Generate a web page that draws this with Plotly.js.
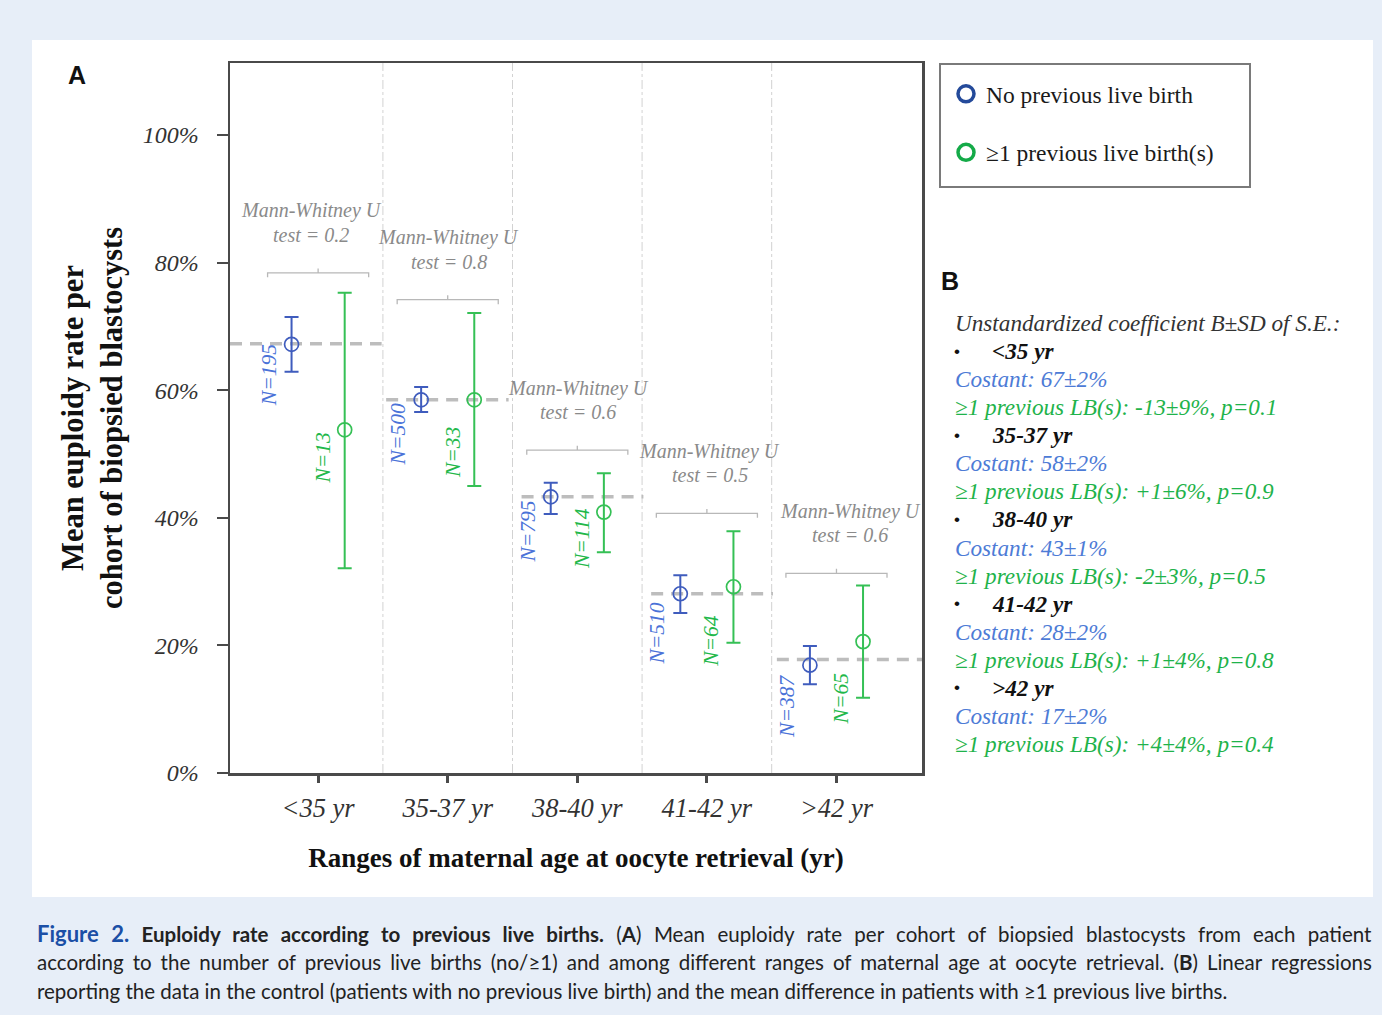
<!DOCTYPE html>
<html>
<head>
<meta charset="utf-8">
<script src="https://cdn.plot.ly/plotly-3.0.1.min.js"></script>
<style>html,body{margin:0;padding:0;background:#e7eef8;}#chart{width:1382px;height:1015px;}</style>
</head>
<body>
<div id="chart"></div>
<script>
// ---------- DATA ----------
const ageGroups = ['<35 yr', '35-37 yr', '38-40 yr', '41-42 yr', '>42 yr'];
const noLBMean = [67.2, 58.5, 43.3, 28.1, 16.9];
const noLBHigh = [71.5, 60.5, 45.5, 31.0, 19.9];
const noLBLow  = [62.9, 56.6, 40.6, 25.1, 13.9];
const lbMean   = [53.8, 58.5, 40.9, 29.2, 20.6];
const lbHigh   = [75.3, 72.1, 47.0, 37.9, 29.4];
const lbLow    = [32.1, 45.0, 34.6, 20.4, 11.8];
const noLBN = [195, 500, 795, 510, 387];
const lbN   = [13, 33, 114, 64, 65];
const refLine = [67.3, 58.5, 43.3, 28.1, 17.8];
const mwP = ['0.2', '0.8', '0.6', '0.5', '0.6'];
const constantB = ['67±2%', '58±2%', '43±1%', '28±2%', '17±2%'];
const lbEffect = ['-13±9%, p=0.1', '+1±6%, p=0.9', '-2±3%, p=0.5', '+1±4%, p=0.8', '+4±4%, p=0.4'];
const yTicks = [0, 20, 40, 60, 80, 100];
const seriesNames = ['No previous live birth', '≥1 previous live birth(s)'];

// ---------- POSITIONS / STYLE (not data) ----------
const pos = {
  offset: 0.205,
  bracketY: [78.4, 74.2, 50.6, 40.7, 31.3],
  mwShift: [-7, 1, 1, 3, 14],
  nBlueY: [62.3, 53.1, 37.8, 21.9, 10.5],
  nGreenY: [49.4, 50.2, 36.8, 20.8, 11.7],
  refSeg: [[-0.68, 0.49], [0.525, 1.47], [1.57, 2.51], [2.57, 3.51], [3.54, 4.66]]
};
const C = {
  blue: '#3f5cbd', green: '#35c055', nBlue: '#4a72d8', nGreen: '#22b84a',
  legBlue: '#244a9a', legGreen: '#14aa48', gray: '#bdbdbd', axis: '#4a4a4a',
  bBlue: '#4d7bd6', bGreen: '#1fb34b'
};
const serif = 'Liberation Serif, Times New Roman, serif';
const sans = 'Liberation Sans, Arial, sans-serif';
const esc = s => s.replace(/&/g, '&amp;').replace(/</g, '&lt;').replace(/>/g, '&gt;');

// pixel helpers (plot area: x 230-922, y 63-773)
const L = 230, R = 922, T = 63, B = 773, W = 1382, H = 1015;
const px = x => (x - L) / (R - L);
const py = y => (B - y) / (B - T);

const idx = ageGroups.map((_, i) => i);
const traces = [
  {
    x: idx.map(i => i - pos.offset), y: noLBMean, type: 'scatter', mode: 'markers',
    name: seriesNames[0], showlegend: false, hoverinfo: 'y',
    marker: {symbol: 'circle-open', size: 14, color: C.blue, line: {width: 1.7, color: C.blue}},
    error_y: {type: 'data', symmetric: false,
      array: noLBHigh.map((v, i) => v - noLBMean[i]),
      arrayminus: noLBMean.map((v, i) => v - noLBLow[i]),
      color: C.blue, thickness: 2, width: 7}
  },
  {
    x: idx.map(i => i + pos.offset), y: lbMean, type: 'scatter', mode: 'markers',
    name: seriesNames[1], showlegend: false, hoverinfo: 'y',
    marker: {symbol: 'circle-open', size: 14, color: C.green, line: {width: 1.7, color: C.green}},
    error_y: {type: 'data', symmetric: false,
      array: lbHigh.map((v, i) => v - lbMean[i]),
      arrayminus: lbMean.map((v, i) => v - lbLow[i]),
      color: C.green, thickness: 2, width: 7}
  },
  {x: [null], y: [null], type: 'scatter', mode: 'markers', name: seriesNames[0], legendgroup: 'a',
   marker: {symbol: 'circle-open', size: 16, color: C.legBlue, line: {width: 3.5, color: C.legBlue}}},
  {x: [null], y: [null], type: 'scatter', mode: 'markers', name: seriesNames[1], legendgroup: 'b',
   marker: {symbol: 'circle-open', size: 16, color: C.legGreen, line: {width: 3.5, color: C.legGreen}}}
];

const shapes = [];
// white panel
shapes.push({type: 'rect', xref: 'paper', yref: 'paper', x0: px(32), x1: px(1373), y0: py(897), y1: py(40),
  fillcolor: '#ffffff', line: {width: 0}, layer: 'below'});
// legend frame
shapes.push({type: 'rect', xref: 'paper', yref: 'paper', x0: px(940), x1: px(1250), y0: py(187), y1: py(64),
  fillcolor: 'rgba(0,0,0,0)', line: {width: 2, color: '#7a7a7a'}});
// vertical dividers
for (let i = 0; i < ageGroups.length - 1; i++) {
  shapes.push({type: 'line', xref: 'x', yref: 'paper', x0: i + 0.5, x1: i + 0.5, y0: 0, y1: 1,
    line: {color: '#d2d2d2', width: 1, dash: 'dashdot'}, layer: 'below'});
}
// reference dashed lines
refLine.forEach((v, i) => {
  shapes.push({type: 'line', xref: 'x', yref: 'y', x0: pos.refSeg[i][0], x1: pos.refSeg[i][1], y0: v, y1: v,
    line: {color: C.gray, width: 3.5, dash: '12px,8px'}, layer: 'below'});
});
// brackets
const hook = 0.7;
pos.bracketY.forEach((yb, i) => {
  const a = i - 0.39, b = i + 0.39;
  shapes.push({type: 'path', xref: 'x', yref: 'y',
    path: `M${a},${yb - hook} L${a},${yb} L${b},${yb} L${b},${yb - hook} M${i},${yb} L${i},${yb + hook}`,
    line: {color: '#b8b8b8', width: 1.3}});
});

const ann = [];
// Mann-Whitney labels
pos.bracketY.forEach((yb, i) => {
  ann.push({xref: 'x', yref: 'y', x: i, y: yb, xshift: pos.mwShift[i], yshift: 62, yanchor: 'middle', xanchor: 'center',
    text: '<i>Mann-Whitney U</i>', showarrow: false, font: {family: serif, size: 20, color: '#8a8a8a'}});
  ann.push({xref: 'x', yref: 'y', x: i, y: yb, xshift: pos.mwShift[i], yshift: 38, yanchor: 'middle', xanchor: 'center',
    text: '<i>test = ' + mwP[i] + '</i>', showarrow: false, font: {family: serif, size: 20, color: '#8a8a8a'}});
});
// N labels
idx.forEach(i => {
  ann.push({xref: 'x', yref: 'y', x: i - pos.offset, y: pos.nBlueY[i], xshift: -23, textangle: -90,
    xanchor: 'center', yanchor: 'middle',
    text: '<i>N=' + noLBN[i] + '</i>', showarrow: false, font: {family: serif, size: 21.5, color: C.nBlue}});
  ann.push({xref: 'x', yref: 'y', x: i + pos.offset, y: pos.nGreenY[i], xshift: -22, textangle: -90,
    xanchor: 'center', yanchor: 'middle',
    text: '<i>N=' + lbN[i] + '</i>', showarrow: false, font: {family: serif, size: 21.5, color: C.nGreen}});
});
// panel letters
ann.push({xref: 'paper', yref: 'paper', x: px(77), y: py(75), xanchor: 'center', yanchor: 'middle',
  text: '<b>A</b>', showarrow: false, font: {family: sans, size: 25, color: '#111'}});
ann.push({xref: 'paper', yref: 'paper', x: px(950), y: py(281), xanchor: 'center', yanchor: 'middle',
  text: '<b>B</b>', showarrow: false, font: {family: sans, size: 25, color: '#111'}});
// panel B text
const bx = px(953);
const lineY0 = 323, lineStep = 28.07;
const bFont = (c) => ({family: serif, size: 23.2, color: c});
ann.push({xref: 'paper', yref: 'paper', x: bx, y: py(lineY0), xanchor: 'left', yanchor: 'middle', showarrow: false,
  text: '<i>Unstandardized coefficient B±SD of S.E.:</i>', font: bFont('#333')});
ageGroups.forEach((g, i) => {
  const y1 = lineY0 + lineStep * (1 + 3 * i);
  ann.push({xref: 'paper', yref: 'paper', x: px(957), y: py(y1), xanchor: 'center', yanchor: 'middle', showarrow: false,
    text: '•', font: {family: sans, size: 17, color: '#111'}});
  ann.push({xref: 'paper', yref: 'paper', x: px(990), y: py(y1), xanchor: 'left', yanchor: 'middle', showarrow: false,
    text: '<b><i>' + esc(g) + '</i></b>', font: bFont('#111')});
  ann.push({xref: 'paper', yref: 'paper', x: bx, y: py(y1 + lineStep), xanchor: 'left', yanchor: 'middle', showarrow: false,
    text: '<i>Costant: ' + constantB[i] + '</i>', font: bFont(C.bBlue)});
  ann.push({xref: 'paper', yref: 'paper', x: bx, y: py(y1 + 2 * lineStep), xanchor: 'left', yanchor: 'middle', showarrow: false,
    text: '<i>≥1 previous LB(s): ' + lbEffect[i] + '</i>', font: bFont(C.bGreen)});
});
// caption
const capFont = {family: 'Lato, Open Sans, sans-serif', size: 20.5, color: '#222'};
const captionLines = [
  '<span style="color:#1b4fa6;font-size:22px"><b>Figure 2.</b></span> <b>Euploidy rate according to previous live births.</b> (<b>A</b>) Mean euploidy rate per cohort of biopsied blastocysts from each patient',
  'according to the number of previous live births (no/≥1) and among different ranges of maternal age at oocyte retrieval. (<b>B</b>) Linear regressions',
  'reporting the data in the control (patients with no previous live birth) and the mean difference in patients with ≥1 previous live births.'
];
const capStart = ann.length;
[933, 962, 991].forEach((y, k) => {
  ann.push({xref: 'paper', yref: 'paper', x: px(35), y: py(y), xanchor: 'left', yanchor: 'middle', align: 'left',
    showarrow: false, text: captionLines[k], font: capFont});
});

const layout = {
  width: W, height: H,
  margin: {l: L, r: W - R, t: T, b: H - B, pad: 0},
  paper_bgcolor: '#e7eef8', plot_bgcolor: '#ffffff',
  font: {family: serif, color: '#333'},
  showlegend: true,
  legend: {x: px(946), y: py(72), xanchor: 'left', yanchor: 'top', bgcolor: 'rgba(0,0,0,0)',
    borderwidth: 0, font: {family: serif, size: 23.5, color: '#1a1a1a'},
    traceorder: 'grouped', tracegroupgap: 25, itemsizing: 'trace'},
  xaxis: {
    range: [-0.68, 4.66], tickvals: idx, ticktext: ageGroups.map(g => '<i>' + esc(g) + '</i>'),
    showgrid: false, zeroline: false, showline: true, mirror: true, linecolor: C.axis, linewidth: 2.5,
    ticks: 'outside', ticklen: 7, tickwidth: 3, tickcolor: C.axis, ticklabelstandoff: 3,
    tickfont: {family: serif, size: 26.5, color: '#333'},
    title: {text: '<b>Ranges of maternal age at oocyte retrieval (yr)</b>', standoff: 26,
      font: {family: serif, size: 27, color: '#111'}}
  },
  yaxis: {
    range: [0, 111.3], tickvals: yTicks, ticktext: yTicks.map(v => '<i>' + v + '%</i>'),
    showgrid: false, zeroline: false, showline: true, mirror: true, linecolor: C.axis, linewidth: 2.5,
    ticks: 'outside', ticklen: 11, tickwidth: 2, tickcolor: C.axis, ticklabelstandoff: 13,
    tickfont: {family: serif, size: 24, color: '#333'},
    title: {text: '<b>Mean euploidy rate per<br>cohort of biopsied blastocysts</b>', standoff: 11,
      font: {family: serif, size: 30.5, color: '#111'}}
  },
  shapes: shapes,
  annotations: ann
};

Plotly.newPlot('chart', traces, layout, {displayModeBar: false, staticPlot: true}).then(gd => {
  // justify the first two caption lines to the panel width
  [0, 1].forEach(k => {
    const g = gd.querySelector('.annotation[data-index="' + (capStart + k) + '"] text.annotation-text');
    if (!g) return;
    const w = g.getBBox().width;
    const spaces = (g.textContent.match(/ /g) || []).length;
    const target = 1370 - 35;
    if (spaces > 0 && w < target) g.style.wordSpacing = ((target - w) / spaces) + 'px';
  });
});
</script>
</body>
</html>
